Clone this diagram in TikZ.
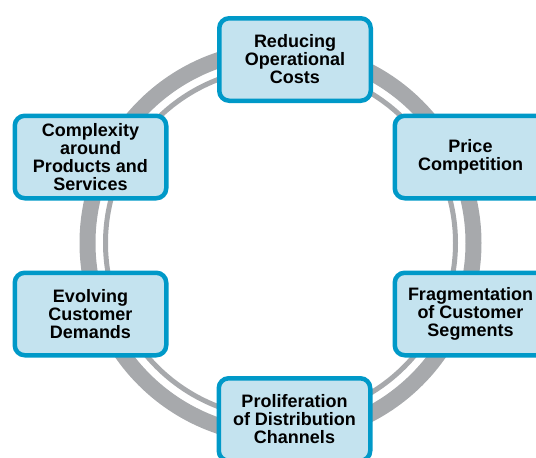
\documentclass[tikz,border=0pt]{standalone}
\usepackage{fontspec}
\setmainfont{Liberation Sans}
\definecolor{ringgray}{HTML}{A7A9AC}
\definecolor{boxblue}{HTML}{0099C8}
\definecolor{boxfill}{HTML}{C4E3EF}
\begin{document}
\begin{tikzpicture}[x=1pt,y=-1pt,
  factor/.style={draw=boxblue, line width=4.5pt, fill=boxfill, rounded corners=10pt,
    minimum width=151.5pt, minimum height=82.5pt, inner sep=0pt, align=center,
    font=\fontsize{18}{18}\selectfont\bfseries}]
\useasboundingbox (0,0) rectangle (536,458);
\coordinate (c) at (280.5,243);
% ring
\draw[ringgray, line width=16pt] (c) circle[radius=193pt];
\draw[ringgray, line width=5pt] (c) circle[radius=175pt];
% boxes
\node[factor] (top) at (295,59.5) {Reducing\\Operational\\Costs};
\node[factor] (lt) at (90.5,157) {Complexity\\around\\Products and\\Services};
\node[factor] (rt) at (470.5,157) {Price\\Competition};
\node[factor] (lb) at (90.5,314) {Evolving\\Customer\\Demands};
\node[factor] (rb) at (470.5,314) {Fragmentation\\of Customer\\Segments};
\node[factor] (bot) at (294.5,419.5) {Proliferation\\of Distribution\\Channels};
\end{tikzpicture}
\end{document}
